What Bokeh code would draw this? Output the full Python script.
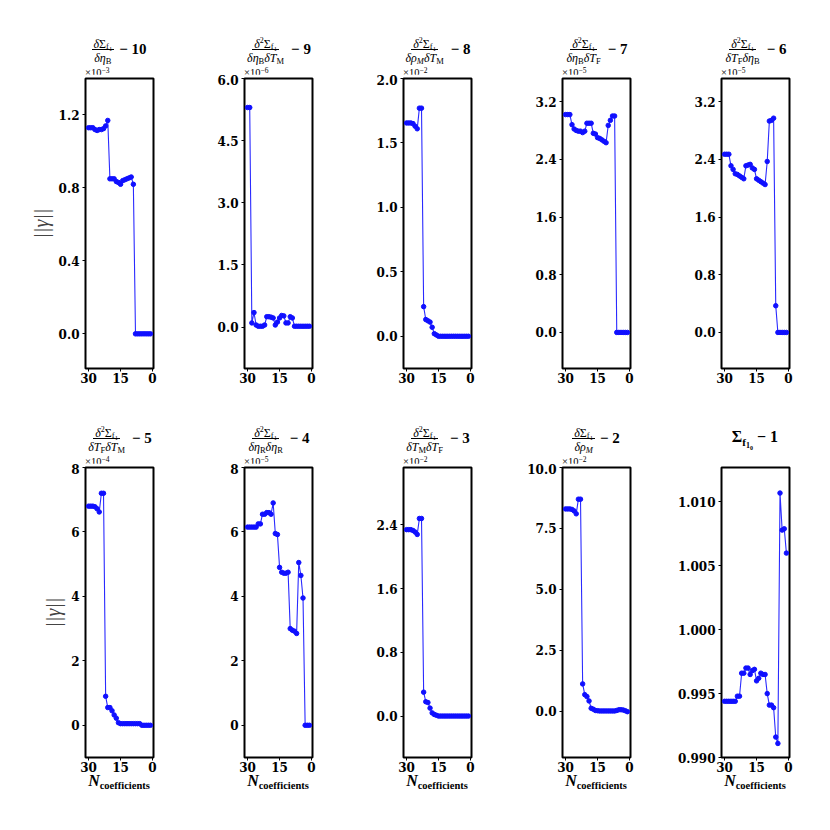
from bokeh.plotting import figure
from bokeh.layouts import column, row
from bokeh.models import Range1d, FixedTicker, PrintfTickFormatter, Div
from bokeh.embed import file_html
from bokeh.resources import INLINE

# ---------------- data ----------------
n_coeff = list(range(30, 0, -1))   # N_coefficients: 30 ... 1
x_ticks = [0, 15, 30]

# panel 1 (x1e-3)
g_10 = [1.13, 1.13, 1.13, 1.12, 1.115, 1.12, 1.12, 1.125, 1.14, 1.17,
        0.85, 0.85, 0.85, 0.835, 0.83, 0.82, 0.84, 0.845, 0.85, 0.855, 0.86, 0.82,
        0.0, 0.0, 0.0, 0.0, 0.0, 0.0, 0.0, 0.0]
# panel 2 (x1e-6)
g_9 = [5.3, 5.3, 0.1, 0.35, 0.05, 0.02, 0.02, 0.02, 0.05, 0.25,
       0.25, 0.24, 0.22, 0.05, 0.12, 0.22, 0.28, 0.27, 0.1, 0.1,
       0.25, 0.22, 0.02, 0.02, 0.02, 0.02, 0.02, 0.02, 0.02, 0.02]
# panel 3 (x1e-2)
g_8 = [1.655, 1.655, 1.655, 1.65, 1.63, 1.61, 1.77, 1.77, 0.23, 0.13,
       0.12, 0.11, 0.07, 0.02, 0.01, 0.0, 0.0, 0.0, 0.0, 0.0,
       0.0, 0.0, 0.0, 0.0, 0.0, 0.0, 0.0, 0.0, 0.0, 0.0]
# panel 4 (x1e-5)
g_7 = [3.02, 3.02, 3.02, 2.88, 2.82, 2.80, 2.79, 2.79, 2.77, 2.79,
       2.90, 2.90, 2.90, 2.76, 2.75, 2.70, 2.69, 2.67, 2.65, 2.63,
       2.87, 2.94, 3.0, 3.0, 0.0, 0.0, 0.0, 0.0, 0.0, 0.0]
# panel 5 (x1e-5)
g_6 = [2.47, 2.47, 2.47, 2.31, 2.26, 2.20, 2.19, 2.17, 2.15, 2.13,
       2.31, 2.32, 2.33, 2.28, 2.26, 2.13, 2.11, 2.09, 2.07, 2.05,
       2.37, 2.93, 2.94, 2.97, 0.37, 0.0, 0.0, 0.0, 0.0, 0.0]
# panel 6 (x1e-4)
g_5 = [6.8, 6.8, 6.8, 6.78, 6.72, 6.62, 7.2, 7.2, 0.9, 0.55,
       0.55, 0.45, 0.32, 0.22, 0.08, 0.05, 0.05, 0.05, 0.05, 0.05,
       0.05, 0.05, 0.05, 0.05, 0.05, 0.0, 0.0, 0.0, 0.0, 0.0]
# panel 7 (x1e-5)
g_4 = [6.15, 6.15, 6.15, 6.15, 6.15, 6.25, 6.25, 6.55, 6.55, 6.6,
       6.6, 6.55, 6.9, 5.95, 5.92, 4.9, 4.75, 4.72, 4.72, 4.75,
       3.0, 2.95, 2.92, 2.85, 5.05, 4.65, 3.95, 0.0, 0.0, 0.0]
# panel 8 (x1e-2)
g_3 = [2.34, 2.34, 2.34, 2.33, 2.31, 2.28, 2.48, 2.48, 0.3, 0.18,
       0.17, 0.1, 0.04, 0.02, 0.01, 0.0, 0.0, 0.0, 0.0, 0.0,
       0.0, 0.0, 0.0, 0.0, 0.0, 0.0, 0.0, 0.0, 0.0, 0.0]
# panel 9 (x1e-2)
g_2 = [8.3, 8.3, 8.3, 8.28, 8.22, 8.1, 8.7, 8.7, 1.12, 0.68,
       0.6, 0.42, 0.12, 0.08, 0.03, 0.02, 0.01, 0.01, 0.01, 0.01,
       0.01, 0.01, 0.01, 0.01, 0.03, 0.06, 0.06, 0.05, 0.02, -0.02]
# panel 10
g_1 = [0.9944, 0.9944, 0.9944, 0.9944, 0.9944, 0.9944, 0.9948, 0.9948, 0.9966, 0.9966,
       0.9970, 0.9970, 0.9965, 0.9968, 0.9969, 0.9960, 0.9962, 0.9966, 0.9965, 0.9965,
       0.9950, 0.9941, 0.9941, 0.9939, 0.9916, 0.9911, 1.0107, 1.0078, 1.0079, 1.0060]

series = [g_10, g_9, g_8, g_7, g_6, g_5, g_4, g_3, g_2, g_1]
offsets = [10, 9, 8, 7, 6, 5, 4, 3, 2, 1]
exponents = ["−3", "−6", "−2", "−5", "−5", "−4", "−5", "−2", "−2", None]
y_ticks = [[0.0, 0.4, 0.8, 1.2], [0.0, 1.5, 3.0, 4.5, 6.0], [0.0, 0.5, 1.0, 1.5, 2.0],
           [0.0, 0.8, 1.6, 2.4, 3.2], [0.0, 0.8, 1.6, 2.4, 3.2], [0, 2, 4, 6, 8],
           [0, 2, 4, 6, 8], [0.0, 0.8, 1.6, 2.4], [0.0, 2.5, 5.0, 7.5, 10.0],
           [0.990, 0.995, 1.000, 1.005, 1.010]]
y_formats = ["%.1f", "%.1f", "%.1f", "%.1f", "%.1f", "%d", "%d", "%.1f", "%.1f", "%.3f"]
y_limits = [(-0.19, 1.40), (-1.0, 6.0), (-0.25, 2.0), (-0.5, 3.52), (-0.5, 3.52),
            (-1.0, 8.0), (-1.0, 8.0), (-0.52, 3.12), (-1.9, 10.0), (0.990, 1.0127)]

# title: derivative order of the numerator (0 = plain Sigma) and denominator variables
title_num = [1, 2, 2, 2, 2, 2, 2, 2, 1, 0]
title_den = [[("η", "B", False)],
             [("η", "B", False), ("T", "M", False)],
             [("ρ", "M", True), ("T", "M", False)],
             [("η", "B", False), ("T", "F", False)],
             [("T", "F", False), ("η", "B", False)],
             [("T", "F", False), ("T", "M", False)],
             [("η", "R", False), ("η", "R", False)],
             [("T", "M", False), ("T", "F", False)],
             [("ρ", "M", True)],
             []]

# ---------------- layout constants ----------------
SERIF = "'Liberation Serif', 'DejaVu Serif', serif"
TICKFONT = "DejaVu Serif"
FW, FH = 68, 290
LEFT0, LEFT, RIGHT = 85, 77, 14
COLW = LEFT + FW + RIGHT
TOP_DIV_H, MID_DIV_H = 74, 66
FIG_TOP = 4


def frame_left(c):
    return LEFT0 + c * COLW


def sup(t):
    return f'<span style="font-size:8px;position:relative;top:-5px;">{t}</span>'


def sub(t, italic=False, shift=2):
    st = "font-style:italic;" if italic else ""
    return f'<span style="font-size:8.5px;position:relative;top:{shift}px;{st}">{t}</span>'


def sub2(t):
    return f'<span style="font-size:6.5px;position:relative;top:1.5px;">{t}</span>'


def title_html(i, ft):
    c = i % 5
    cx = frame_left(c) + FW / 2
    if title_num[i] == 0:
        inner = ('<div style="font-size:16px;font-weight:bold;white-space:nowrap;">Σ'
                 '<span style="font-size:11px;position:relative;top:4px;">f'
                 '<span style="font-size:8px;position:relative;top:2px;">1'
                 '<span style="font-size:6px;position:relative;top:2px;">0</span></span></span>'
                 f'&nbsp;−&nbsp;{offsets[i]}</div>')
        yc = ft - 30
    else:
        num = ("<i>δ</i>" + (sup("2") if title_num[i] == 2 else "") + "Σ"
               + sub("f" + sub2("1"), shift=1))
        den = "".join(f"<i>δ{v}</i>" + sub(s, it, shift=1.5) for v, s, it in title_den[i])
        inner = ('<div style="display:flex;flex-direction:column;align-items:center;">'
                 '<div style="font-size:12px;line-height:12px;height:12px;padding:0 2px 4px 2px;'
                 f'border-bottom:1px solid #000;white-space:nowrap;">{num}</div>'
                 '<div style="font-size:12px;line-height:12px;height:12px;padding:2px 2px 3px 2px;'
                 f'white-space:nowrap;">{den}</div></div>'
                 '<div style="font-size:15px;font-weight:bold;margin-left:5px;white-space:nowrap;">'
                 f'−&nbsp;{offsets[i]}</div>')
        yc = ft - 28
    box = (f'<div style="position:absolute;left:{cx - 80:.0f}px;width:160px;top:{yc - 20:.0f}px;'
           'height:40px;display:flex;align-items:center;justify-content:center;color:#000;">'
           f'{inner}</div>')
    if exponents[i] is not None:
        box += (f'<div style="position:absolute;left:{frame_left(c)}px;top:{ft - 10}px;'
                'font-size:10.5px;line-height:10px;white-space:nowrap;color:#000;">×10'
                f'<span style="font-size:7.5px;position:relative;top:-3px;">{exponents[i]}</span></div>')
    return box


def title_div(indices, height, ft):
    html = (f'<div style="position:relative;width:830px;height:{height}px;font-family:{SERIF};">'
            + "".join(title_html(i, ft) for i in indices) + "</div>")
    return Div(text=html, width=830, height=height, margin=0)


def xlabel_div(height):
    parts = []
    for c in range(5):
        cx = frame_left(c) + FW / 2
        parts.append(f'<div style="position:absolute;left:{cx - 60:.0f}px;width:120px;top:-2px;'
                     'line-height:18px;text-align:center;white-space:nowrap;color:#000;">'
                     '<span style="font-size:16px;font-weight:bold;font-style:italic;">N</span>'
                     '<span style="font-size:10.5px;font-weight:bold;position:relative;top:3px;">'
                     'coefficients</span></div>')
    html = (f'<div style="position:relative;width:830px;height:{height}px;font-family:{SERIF};">'
            + "".join(parts) + "</div>")
    return Div(text=html, width=830, height=height, margin=0)


def make_panel(i):
    bottom_row = i >= 5
    c = i % 5
    p = figure(frame_width=FW, frame_height=FH, output_backend="svg", toolbar_location=None,
               min_border_left=LEFT0 if c == 0 else LEFT, min_border_right=RIGHT,
               min_border_top=FIG_TOP, min_border_bottom=17 if bottom_row else 29,
               x_range=Range1d(31.45, -0.45), y_range=Range1d(*y_limits[i]))
    p.background_fill_color = "white"
    p.border_fill_color = "white"
    p.outline_line_color = "black"
    p.outline_line_width = 2
    p.outline_line_alpha = 1.0
    p.grid.visible = False
    for ax in (p.xaxis, p.yaxis):
        ax.axis_line_color = None
        ax.major_tick_in = 0
        ax.major_tick_out = 3
        ax.major_tick_line_color = "black"
        ax.minor_tick_line_color = None
        ax.major_label_text_font = TICKFONT
        ax.major_label_text_font_style = "bold"
        ax.major_label_text_font_size = "12px"
        ax.major_label_text_color = "black"
    p.xaxis.ticker = FixedTicker(ticks=x_ticks)
    p.xaxis.major_label_standoff = 1
    p.yaxis.ticker = FixedTicker(ticks=y_ticks[i])
    p.yaxis.formatter = PrintfTickFormatter(format=y_formats[i])
    p.yaxis.major_label_standoff = 3
    if c == 0:
        p.yaxis.axis_label = "||γ||"
        p.yaxis.axis_label_text_font = "Liberation Serif"
        p.yaxis.axis_label_text_font_style = "italic"
        p.yaxis.axis_label_text_font_size = "20px"
        p.yaxis.axis_label_standoff = 4

    p.line(n_coeff, series[i], line_color="#2a2aff", line_width=1.1)
    p.scatter(n_coeff, series[i], size=4.5, fill_color="#1010ff", line_color="#1010ff")
    return p


panels = [make_panel(i) for i in range(10)]
layout = column(
    title_div(range(0, 5), TOP_DIV_H, TOP_DIV_H + FIG_TOP),
    row(*panels[:5], spacing=0),
    title_div(range(5, 10), MID_DIV_H, MID_DIV_H + FIG_TOP),
    row(*panels[5:], spacing=0),
    xlabel_div(24),
    spacing=0,
)
open("out.html", "w").write(file_html(layout, INLINE))
